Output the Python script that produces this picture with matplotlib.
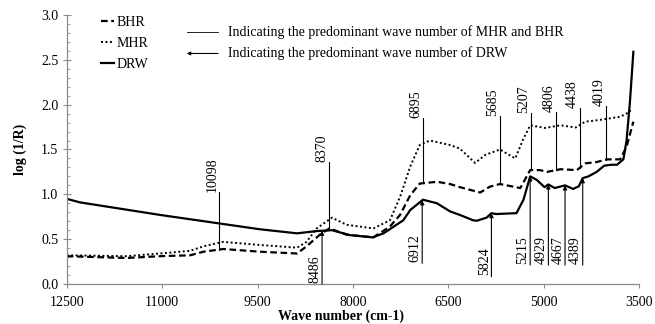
import matplotlib
matplotlib.use("Agg")
import numpy as np
from matplotlib import pyplot as plt
from matplotlib.ticker import MultipleLocator, FormatStrFormatter

plt.rcParams["font.family"] = ["Liberation Serif", "DejaVu Serif"]
plt.rcParams["font.size"] = 10

# Spectra, wave number (cm-1) vs log(1/R)
drw_wn = [12500, 12290, 11030, 10050, 9460, 8880, 8570, 8330, 8050, 7690,
          7520, 7210, 7100, 6900, 6680, 6475, 6320, 6110, 6055, 5900, 5824,
          5750, 5430, 5320, 5215, 5110, 4990, 4929, 4830, 4667, 4540, 4450,
          4389, 4300, 4170, 4050, 3930, 3850, 3750, 3700, 3645, 3593]
drw_val = [0.95, 0.91, 0.77, 0.67, 0.61, 0.565, 0.59, 0.60, 0.545, 0.52,
           0.565, 0.71, 0.825, 0.94, 0.90, 0.81, 0.77, 0.71, 0.705, 0.74, 0.79,
           0.78, 0.79, 0.94, 1.20, 1.16, 1.08, 1.11, 1.07, 1.10, 1.06, 1.09,
           1.18, 1.20, 1.25, 1.32, 1.33, 1.33, 1.39, 1.60, 2.05, 2.59]

bhr_wn = [12500, 11560, 11030, 10560, 10350, 10040, 9460, 8880, 8730, 8520,
          8370, 8100, 7680, 7420, 7260, 7100, 6950, 6680, 6475, 6320, 6000,
          5850, 5690, 5370, 5215, 5060, 4950, 4740, 4480, 4350, 4170, 4010,
          3800, 3700, 3593]
bhr_val = [0.31, 0.29, 0.31, 0.32, 0.36, 0.39, 0.36, 0.34, 0.42, 0.55,
           0.62, 0.55, 0.52, 0.64, 0.77, 0.99, 1.12, 1.14, 1.115, 1.08, 1.02,
           1.085, 1.115, 1.07, 1.27, 1.27, 1.25, 1.28, 1.27, 1.345, 1.36, 1.39,
           1.39, 1.53, 1.81]

mhr_wn = [12500, 11560, 11030, 10560, 10350, 10040, 9460, 8880, 8730, 8570,
          8330, 8100, 7680, 7420, 7260, 7100, 6950, 6790, 6475, 6320, 6080,
          5920, 5690, 5450, 5330, 5215, 4980, 4740, 4500, 4350, 4120, 3800,
          3650, 3634]
mhr_val = [0.32, 0.31, 0.34, 0.37, 0.42, 0.47, 0.435, 0.405, 0.47, 0.62,
           0.74, 0.66, 0.62, 0.71, 0.97, 1.31, 1.55, 1.60, 1.55, 1.51, 1.35,
           1.44, 1.50, 1.40, 1.605, 1.77, 1.74, 1.77, 1.745, 1.81, 1.83, 1.865,
           1.92, 1.96]

# predominant wave numbers
mb_peaks = [10098, 8370, 6895, 5685, 5207, 4806, 4438, 4019]
mb_top = [1.03, 1.36, 1.85, 1.87, 1.91, 1.92, 1.96, 1.98]
drw_peaks = [8486, 6912, 5824, 5215, 4929, 4667, 4389]
drw_base = [0.0, 0.23, 0.08, 0.21, 0.21, 0.21, 0.21]

x_ticks = [12500, 11000, 9500, 8000, 6500, 5000, 3500]

fig = plt.figure(figsize=(6.55, 3.24), dpi=100)
fig.subplots_adjust(left=0.1018, right=0.976, bottom=0.1235, top=0.9537)
ax = fig.add_subplot(111)

ax.plot(bhr_wn, bhr_val, color="black", lw=1.6, ls=(0, (3, 1.6)), label="BHR")
ax.plot(mhr_wn, mhr_val, color="black", lw=1.4, ls=(0, (1, 1.3)), label="MHR")
ax.plot(drw_wn, drw_val, color="black", lw=1.6, label="DRW")

# plain lines for MHR / BHR
bhr_order = np.argsort(bhr_wn)
for wn, top in zip(mb_peaks, mb_top):
    base = np.interp(wn, np.array(bhr_wn)[bhr_order], np.array(bhr_val)[bhr_order])
    ax.plot([wn, wn], [base, top], color="black", lw=0.8)
    ax.annotate(str(wn), xy=(wn, top), xytext=(-0.5, 0), textcoords="offset points",
                rotation=90, ha="right", va="bottom")

# arrows for DRW
drw_order = np.argsort(drw_wn)
for wn, base in zip(drw_peaks, drw_base):
    tip = np.interp(wn, np.array(drw_wn)[drw_order], np.array(drw_val)[drw_order])
    ax.annotate("", xy=(wn, tip), xytext=(wn, base),
                arrowprops=dict(arrowstyle="-|>", color="black", lw=0.8,
                                mutation_scale=6, shrinkA=0, shrinkB=0))
    ax.annotate(str(wn), xy=(wn, base), xytext=(-0.5, 1), textcoords="offset points",
                rotation=90, ha="right", va="bottom")

ax.set_xlim(12500, 3500)
ax.set_ylim(0, 3.0)
ax.set_xticks(x_ticks)
ax.yaxis.set_major_locator(MultipleLocator(0.5))
ax.yaxis.set_minor_locator(MultipleLocator(0.1))
ax.yaxis.set_major_formatter(FormatStrFormatter("%.1f"))

for side in ["top", "right"]:
    ax.spines[side].set_visible(False)
for side in ["left", "bottom"]:
    ax.spines[side].set_color("#8c8c8c")
    ax.spines[side].set_linewidth(0.9)
ax.tick_params(axis="x", direction="out", length=3, color="#8c8c8c", pad=6)
ax.tick_params(axis="y", which="major", direction="inout", length=6, color="#8c8c8c", pad=3)
ax.tick_params(axis="y", which="minor", direction="in", length=2.5, color="#8c8c8c")

ax.set_xlabel("Wave number (cm-1)", fontweight="bold")
ax.set_ylabel("log (1/R)", fontweight="bold")
ax.xaxis.set_label_coords(0.479, -0.096)
ax.yaxis.set_label_coords(-0.07, 0.5)

ax.legend(loc="upper left", bbox_to_anchor=(0.06, 0.995), frameon=False,
          handlelength=0.9, handletextpad=0.2, labelspacing=0.55,
          borderpad=0, borderaxespad=0)

# key for the marker lines
ax.plot([0.2097, 0.2644], [0.936, 0.936], transform=ax.transAxes,
        color="black", lw=0.6, clip_on=False)
ax.text(0.2813, 0.936, "Indicating the predominant wave number of MHR and BHR",
        transform=ax.transAxes, va="center", ha="left")
ax.annotate("", xy=(0.2097, 0.857), xytext=(0.2644, 0.857),
            xycoords="axes fraction", textcoords="axes fraction",
            arrowprops=dict(arrowstyle="-|>", color="black", lw=0.8,
                            mutation_scale=5, shrinkA=0, shrinkB=0))
ax.text(0.2813, 0.857, "Indicating the predominant wave number of DRW",
        transform=ax.transAxes, va="center", ha="left")

fig.savefig("out.png", dpi=100)
